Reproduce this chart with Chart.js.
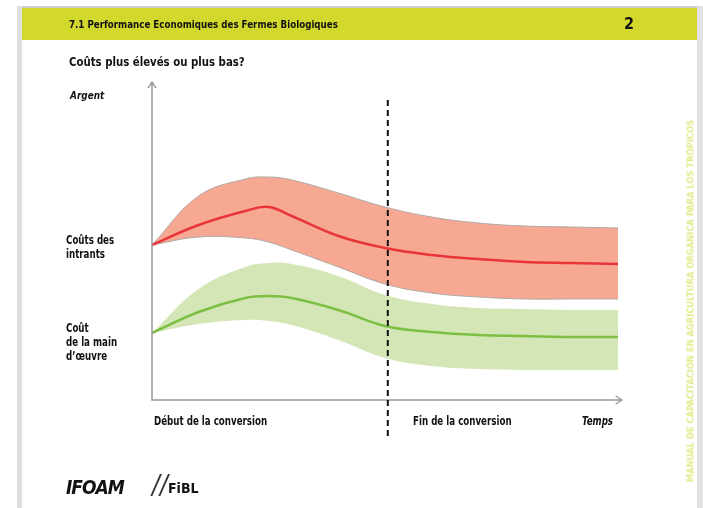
<!DOCTYPE html>
<html>
<head>
<meta charset="utf-8">
<script src="https://cdn.jsdelivr.net/npm/chart.js@4"></script>
<style>
  body { margin: 0; background: #fff; }
  #page { position: relative; width: 703px; height: 508px; overflow: hidden;
          font-family: "DejaVu Sans Condensed", "Open Sans", sans-serif; color: #111; }
  #page canvas { position: absolute; left: 0; top: 0; }
  .t { position: absolute; white-space: nowrap; font-weight: bold; transform-origin: left top; transform: scaleX(0.84); }
  .topline { position: absolute; left: 17px; right: 0; top: 6px; height: 2px; background: #cfcfcf; }
  .leftbar { position: absolute; left: 17px; top: 6px; bottom: 0; width: 5px; background: #dedede; }
  .rightbar { position: absolute; left: 697px; top: 6px; bottom: 0; width: 6px; background: #e2e2e2; }
  .header { position: absolute; left: 22px; top: 8px; width: 675px; height: 32px; background: #d3d92c; }
  .vert { position: absolute; left: 690px; top: 301px; transform: translate(-50%, -50%) rotate(-90deg);
          color: #e2ea8a; font-size: 9.3px; font-weight: bold; white-space: nowrap; }
</style>
</head>
<body>
<div id="page">
  <div class="topline"></div>
  <div class="leftbar"></div>
  <div class="rightbar"></div>
  <div class="header"></div>
  <canvas id="myChart" width="703" height="508"></canvas>
  <div class="t" style="left:69px;top:18px;font-size:11px;transform:scaleX(0.88);">7.1 Performance Economiques des Fermes Biologiques</div>
  <div class="t" style="left:624px;top:14px;font-size:16px;transform:none;">2</div>
  <div class="t" style="left:69px;top:54px;font-size:13px;transform:scaleX(0.87);">Coûts plus élevés ou plus bas?</div>
  <div class="t" style="left:70px;top:89px;font-size:11px;font-style:italic;transform:scaleX(0.9);">Argent</div>
  <div class="t" style="left:66px;top:233px;font-size:11.5px;line-height:14px;">Coûts des<br>intrants</div>
  <div class="t" style="left:66px;top:321px;font-size:11.5px;line-height:14px;">Coût<br>de la main<br>d’œuvre</div>
  <div class="t" style="left:154px;top:414px;font-size:11.5px;">Début de la conversion</div>
  <div class="t" style="left:413px;top:414px;font-size:11.5px;">Fin de la conversion</div>
  <div class="t" style="left:582px;top:414px;font-size:11.5px;font-style:italic;">Temps</div>
  <div class="t" style="left:66px;top:476px;font-size:19px;font-style:italic;font-weight:900;letter-spacing:-1px;transform:none;">IFOAM</div>
  <div class="t" style="left:152px;top:470px;font-size:26px;font-style:italic;font-weight:normal;color:#333;transform:none;">//</div>
  <div class="t" style="left:168px;top:480px;font-size:14px;transform:none;">FiBL</div>
  <div class="vert">MANUAL DE CAPACITACION EN AGRICULTURA ORGANICA PARA LOS TROPICOS</div>
</div>
<script>
// time axis (arbitrary units) and money values (arbitrary units)
var times = [0, 10, 20, 25, 30, 40, 50, 60, 70, 80, 90, 100];

var intrantsHaut = [155, 204, 221, 223, 220, 207, 193, 183, 177, 174, 173, 172];
var intrantsMoy  = [155, 175, 189, 193, 184, 164, 152, 145, 141, 138, 137, 136];
var intrantsBas  = [155, 163, 162, 158, 150, 133, 116, 107, 103, 101, 101, 101];

var mainHaut = [67, 111, 133, 137, 136, 124, 105, 96, 92, 91, 90, 90];
var mainMoy  = [67, 88, 102, 104, 102, 90, 74, 68, 65, 64, 63, 63];
var mainBas  = [67, 76, 80, 79, 75, 60, 42, 34, 31, 30, 30, 30];

var finConversion = 50.6;

function pts(vals) {
    return vals.map(function (v, i) { return { x: times[i], y: v }; });
}

function band(vals, border, fill, fillColor) {
    return {
        data: pts(vals),
        borderColor: border,
        borderWidth: 1,
        backgroundColor: fillColor,
        fill: fill,
        pointRadius: 0,
        tension: 0.4,
        order: 2
    };
}

function mid(vals, color) {
    return {
        data: pts(vals),
        borderColor: color,
        borderWidth: 2.5,
        fill: false,
        pointRadius: 0,
        tension: 0.4,
        order: 1
    };
}

// axes with arrows + dashed "fin de la conversion" line
var axesPlugin = {
    id: 'axes',
    afterDatasetsDraw: function (chart) {
        var c = chart.ctx, xs = chart.scales.x, ys = chart.scales.y;
        var x0 = xs.getPixelForValue(0), y0 = ys.getPixelForValue(0);
        var xEnd = xs.getPixelForValue(100.8), yEnd = ys.getPixelForValue(318);
        c.save();
        c.strokeStyle = '#9b9b9b';
        c.lineWidth = 1.5;
        c.beginPath();
        c.moveTo(x0, yEnd); c.lineTo(x0, y0); c.lineTo(xEnd, y0);
        c.moveTo(x0 - 4, yEnd + 6); c.lineTo(x0, yEnd); c.lineTo(x0 + 4, yEnd + 6);
        c.moveTo(xEnd - 6, y0 - 4); c.lineTo(xEnd, y0); c.lineTo(xEnd - 6, y0 + 4);
        c.stroke();
        var xd = xs.getPixelForValue(finConversion);
        c.strokeStyle = '#111';
        c.lineWidth = 2;
        c.setLineDash([6, 4]);
        c.beginPath();
        c.moveTo(xd, ys.getPixelForValue(300));
        c.lineTo(xd, y0 + 38);
        c.stroke();
        c.restore();
    }
};

var ctx = document.getElementById('myChart').getContext('2d');
var myChart = new Chart(ctx, {
    type: 'line',
    data: {
        datasets: [
            band(intrantsHaut, '#b0a8a4', false, 'transparent'),
            band(intrantsBas, '#b0a8a4', '-1', '#f6a892'),
            band(mainHaut, 'rgba(0,0,0,0)', false, 'transparent'),
            band(mainBas, 'rgba(0,0,0,0)', '-1', '#d4e6b5'),
            mid(intrantsMoy, '#e8353a'),
            mid(mainMoy, '#7dbf45')
        ]
    },
    options: {
        responsive: false,
        animation: false,
        layout: { padding: { left: 152, right: 85, top: 80, bottom: 108 } },
        scales: {
            x: { type: 'linear', min: 0, max: 100, display: false },
            y: { min: 0, max: 320, display: false }
        },
        plugins: { legend: { display: false }, tooltip: { enabled: false } }
    },
    plugins: [axesPlugin]
});
</script>
</body>
</html>
